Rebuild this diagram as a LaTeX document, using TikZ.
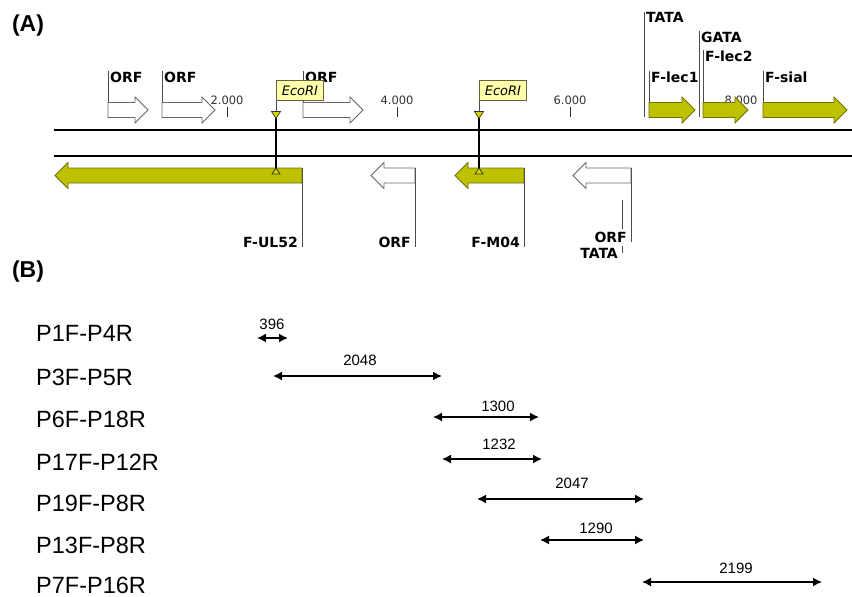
\documentclass[tikz,border=0pt]{standalone}
\usepackage{fontspec}
\setmainfont{Liberation Sans}
\newfontfamily\mapfont{DejaVu Sans}
\usetikzlibrary{arrows.meta}
\definecolor{gene}{RGB}{190,193,0}
\definecolor{geneedge}{RGB}{110,112,0}
\definecolor{flagfill}{RGB}{255,255,170}
\definecolor{flagedge}{RGB}{100,100,60}
\tikzset{
 maplabel/.style={font=\mapfont\bfseries\fontsize{14}{14}\selectfont, inner sep=0pt},
 scalelabel/.style={font=\mapfont\fontsize{11.5}{11.5}\selectfont, inner sep=0pt, text=black!80},
 greenarr/.style={fill=gene, draw=geneedge, line width=0.8pt},
 whitearr/.style={fill=white, draw=black!60, line width=0.8pt},
 leader/.style={draw=black!70, line width=0.8pt},
 tickmark/.style={draw=black!80, line width=1pt},
 strand/.style={line width=2pt},
 primer/.style={font=\fontsize{23.5}{23.5}\selectfont, anchor=west, inner sep=0pt},
 sizelabel/.style={font=\fontsize{15}{15}\selectfont, inner sep=0pt},
 span/.style={line width=1.5pt, {Latex[length=9pt,width=9pt]}-{Latex[length=9pt,width=9pt]}},
 panel/.style={font=\bfseries\fontsize{23}{23}\selectfont, inner sep=0pt},
 flag/.style={fill=flagfill, draw=flagedge, line width=0.8pt, font=\mapfont\itshape\fontsize{13}{13}\selectfont, minimum width=47pt, minimum height=20pt, inner sep=0pt, anchor=north west},
 sitetri/.style={fill=gene!70!yellow, draw=black!80, line width=0.7pt},
}
\newcommand\fwdgene[4]{\path[#4] (#1,{#3-7.5}) -- ({#2-13},{#3-7.5}) -- ({#2-13},{#3-13}) -- (#2,#3) -- ({#2-13},{#3+13}) -- ({#2-13},{#3+7.5}) -- (#1,{#3+7.5}) -- cycle;}
\newcommand\revgene[4]{\path[#4] (#2,{#3-7.5}) -- ({#1+13},{#3-7.5}) -- ({#1+13},{#3-13}) -- (#1,#3) -- ({#1+13},{#3+13}) -- ({#1+13},{#3+7.5}) -- (#2,{#3+7.5}) -- cycle;}
\begin{document}
\begin{tikzpicture}[x=1pt,y=-1pt]
\useasboundingbox (0,0) rectangle (852,597);
% panel labels
\node[panel] (pA) at (28,26) {(A)};
\node[panel] (pB) at (28,272) {(B)};
% scale
\foreach \x/\t [count=\i] in {227/2.000,397/4.000,570/6.000,741/8.000}{
  \node[scalelabel] (sc\i) at (\x,100) {\t};
  \draw[tickmark] (\x,107) -- (\x,117);
}
% strands
\coordinate (s1l) at (54,130); \coordinate (s1r) at (852,130);
\coordinate (s2l) at (54,156); \coordinate (s2r) at (852,156);
\draw[strand] (s1l) -- (s1r);
\draw[strand] (s2l) -- (s2r);
% upper strand features
\draw[leader] (108,71) -- (108,118);
\fwdgene{108}{148}{110}{whitearr}
\node[maplabel,anchor=west] (orf1) at (110,77) {ORF};
\draw[leader] (162,71) -- (162,118);
\fwdgene{162}{215}{110}{whitearr}
\node[maplabel,anchor=west] (orf2) at (164,77) {ORF};
\draw[leader] (303,71) -- (303,118);
\fwdgene{303}{363}{110}{whitearr}
\node[maplabel,anchor=west] (orf3) at (305,77) {ORF};
\draw[leader] (644,12) -- (644,117);
\node[maplabel,anchor=west] (tata1) at (646,17) {TATA};
\draw[leader] (649,71) -- (649,118);
\fwdgene{649}{695}{110}{greenarr}
\node[maplabel,anchor=west] (lec1) at (651,77) {F-lec1};
\draw[leader] (699,31) -- (699,117);
\node[maplabel,anchor=west] (gata) at (701,37) {GATA};
\draw[leader] (703,50) -- (703,118);
\fwdgene{703}{748}{110}{greenarr}
\node[maplabel,anchor=west] (lec2) at (705,56) {F-lec2};
\draw[leader] (763,71) -- (763,118);
\fwdgene{763}{847}{110}{greenarr}
\node[maplabel,anchor=west] (sial) at (765,77) {F-sial};
% lower strand features
\revgene{55}{302}{175.5}{greenarr}
\draw[leader] (302,168) -- (302,247);
\node[maplabel,anchor=east] (ul52) at (298,242) {F-UL52};
\revgene{371}{415}{175.5}{whitearr}
\draw[leader] (415,168) -- (415,247);
\node[maplabel,anchor=east] (orf4) at (411,242) {ORF};
\revgene{455}{524}{175.5}{greenarr}
\draw[leader] (524,168) -- (524,247);
\node[maplabel,anchor=east] (m04) at (520,242) {F-M04};
\revgene{573}{631}{175.5}{whitearr}
\draw[leader] (631,168) -- (631,242);
\node[maplabel,anchor=east] (orf5) at (627,237) {ORF};
\draw[leader] (622,200) -- (622,229);
\draw[leader] (622,246) -- (622,253);
\node[maplabel,anchor=east] (tata2) at (618,253) {TATA};
% EcoRI sites
\foreach \x [count=\i] in {276,479}{
  \draw[leader] (\x,80) -- (\x,112);
  \node[flag] (eco\i) at (\x,80) {EcoRI};
  \draw[line width=2pt] (\x,118) -- (\x,169);
  \path[sitetri] ({\x-4.5},111.5) -- ({\x+4.5},111.5) -- (\x,118.5) -- cycle;
  \path[sitetri] ({\x-4},174) -- ({\x+4},174) -- (\x,168) -- cycle;
}
% panel B
\foreach \y/\t [count=\i] in {333/P1F-P4R,377/P3F-P5R,419/P6F-P18R,462/P17F-P12R,503/P19F-P8R,545/P13F-P8R,585/P7F-P16R}{
  \node[primer] (pr\i) at (36,\y) {\t};
}
\foreach \xa/\xb/\y/\lx/\ly/\t [count=\i] in {257/288/338/272/324/396, 273/442/376/360/360/2048, 433/539/417/498/406/1300, 442/542/459/499/444/1232, 477/644/499/572/483/2047, 540/644/540/596/528/1290, 642/822/582/736/568/2199}{
  \coordinate (a\i) at (\xa,\y);
  \coordinate (b\i) at (\xb,\y);
  \draw[span] (a\i) -- (b\i);
  \node[sizelabel] (len\i) at (\lx,\ly) {\t};
}
\end{tikzpicture}
\end{document}
